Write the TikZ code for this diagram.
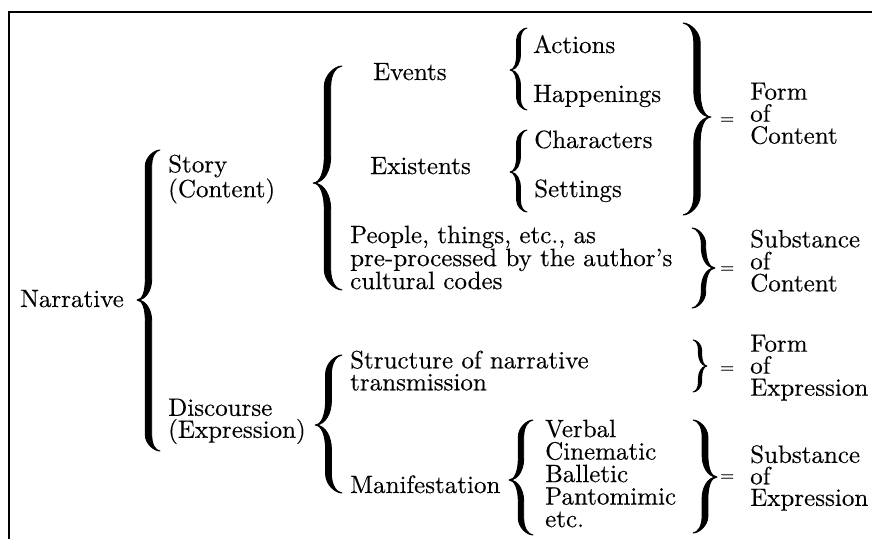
\documentclass[tikz,border=0pt]{standalone}
\usepackage{fontspec}
\setmainfont{lmroman10-regular.otf}[FakeBold=0.3]
% tapered curly brace: X (hook ends), top, bottom, tip y, depth, half thickness, direction (1 left, -1 right)
\newcommand{\mybrace}[7]{%
 \begin{scope}[shift={(#1,0)}, xscale=#7]
  \pgfmathsetmacro\brS{-(#5)/2}
  \pgfmathsetmacro\brO{\brS-(#6)}
  \pgfmathsetmacro\brI{\brS+(#6)}
  \pgfmathsetmacro\brH{0.7*(#5)}
  \pgfmathsetmacro\brT{0.9*(#5)}
  \filldraw[bracefill]
   (0,#2) .. controls ({0.5*\brS},#2) and (\brO,{#2+0.45*\brH}) .. (\brO,{#2+\brH})
   -- (\brO,{#4-\brT})
   .. controls (\brO,{#4-0.45*\brT}) and ({-0.75*(#5)},#4) .. ({-(#5)},#4)
   .. controls ({-0.75*(#5)},#4) and (\brO,{#4+0.45*\brT}) .. (\brO,{#4+\brT})
   -- (\brO,{#3-\brH})
   .. controls (\brO,{#3-0.45*\brH}) and ({0.5*\brS},#3) .. (0,#3)
   .. controls ({0.4*\brS},{#3-0.6}) and (\brI,{#3-0.4*\brH}) .. (\brI,{#3-\brH})
   -- (\brI,{#4+\brT})
   .. controls (\brI,{#4+0.5*\brT}) and ({-0.6*(#5)},{#4+0.6}) .. ({-(#5)+1},#4)
   .. controls ({-0.6*(#5)},{#4-0.6}) and (\brI,{#4-0.5*\brT}) .. (\brI,{#4-\brT})
   -- (\brI,{#2+\brH})
   .. controls (\brI,{#2+0.4*\brH}) and ({0.4*\brS},{#2+0.6}) .. (0,#2) -- cycle;
 \end{scope}}
\begin{document}
\begin{tikzpicture}[x=1pt,y=-1pt,
  txt/.style={anchor=base west, inner sep=0pt, font=\fontsize{25}{22}\selectfont},
  mtxt/.style={anchor=north west, inner sep=0pt, align=left, font=\fontsize{25}{22}\selectfont},
  eqs/.style={anchor=base west, inner sep=0pt, font=\fontsize{18}{18}\selectfont},
  bracefill/.style={fill=black, draw=black, line width=0.9pt, line join=round},
  frame/.style={line width=1.5pt}]
\useasboundingbox (0,0) rectangle (872,538);
\clip (0,0) rectangle (872,538);
% frame
\coordinate (fb) at (9,545);
\coordinate (fc) at (9,12);
\coordinate (fr) at (885,12);
\draw[frame] (fb) -- (fc) -- (fr);

% texts
\node[txt] (narr) at (20,307) {Narrative};
\node[mtxt] (story) at (168,154.5) {Story\\(Content)};
\node[mtxt] (disc) at (168,398.5) {Discourse\\(Expression)};
\node[txt] (events) at (373,80) {Events};
\node[txt] (exist) at (370,174) {Existents};
\node[mtxt, font=\fontsize{25}{23}\selectfont] (people) at (350,225.5) {People, things, etc., as\\pre-processed by the author's\\cultural codes};
\node[txt] (act) at (533,53) {Actions};
\node[txt] (hap) at (533,102) {Happenings};
\node[txt] (char) at (534,148) {Characters};
\node[txt] (sett) at (534,197) {Settings};
\node[mtxt] (struct) at (350,350.5) {Structure of narrative\\transmission};
\node[txt] (manif) at (350,493) {Manifestation};
\node[mtxt, font=\fontsize{25}{22.5}\selectfont] (media) at (545,419.5) {Verbal\\Cinematic\\Balletic\\Pantomimic\\etc.};
\node[mtxt] (foc) at (750,82.5) {Form\\of\\Content};
\node[mtxt] (soc) at (750,229.5) {Substance\\of\\Content};
\node[mtxt] (foe) at (750,334.5) {Form\\of\\Expression};
\node[mtxt, font=\fontsize{25}{21.5}\selectfont] (soe) at (750,445) {Substance\\of\\Expression};
\node[eqs] (eq1) at (720,124) {=};
\node[eqs] (eq2) at (720,273) {=};
\node[eqs] (eq3) at (720,373) {=};
\node[eqs] (eq4) at (720,481) {=};

% left braces
\mybrace{160}{150}{451}{300}{23}{3.2}{1}
\mybrace{342}{66}{290}{183}{29}{3.2}{1}
\mybrace{342}{355}{493}{425}{27}{2.9}{1}
\mybrace{527}{28}{110}{70}{17}{1.9}{1}
\mybrace{527}{130}{212}{172}{17}{1.9}{1}
\mybrace{533}{420}{535}{480}{24}{2.7}{1}
% right braces
\mybrace{683}{23}{215}{117}{28}{3.2}{-1}
\mybrace{692}{228}{308}{268}{23}{2.2}{-1}
\mybrace{693}{340}{392}{366}{14}{1.6}{-1}
\mybrace{693}{420}{533}{477}{24}{2.9}{-1}
\end{tikzpicture}
\end{document}
